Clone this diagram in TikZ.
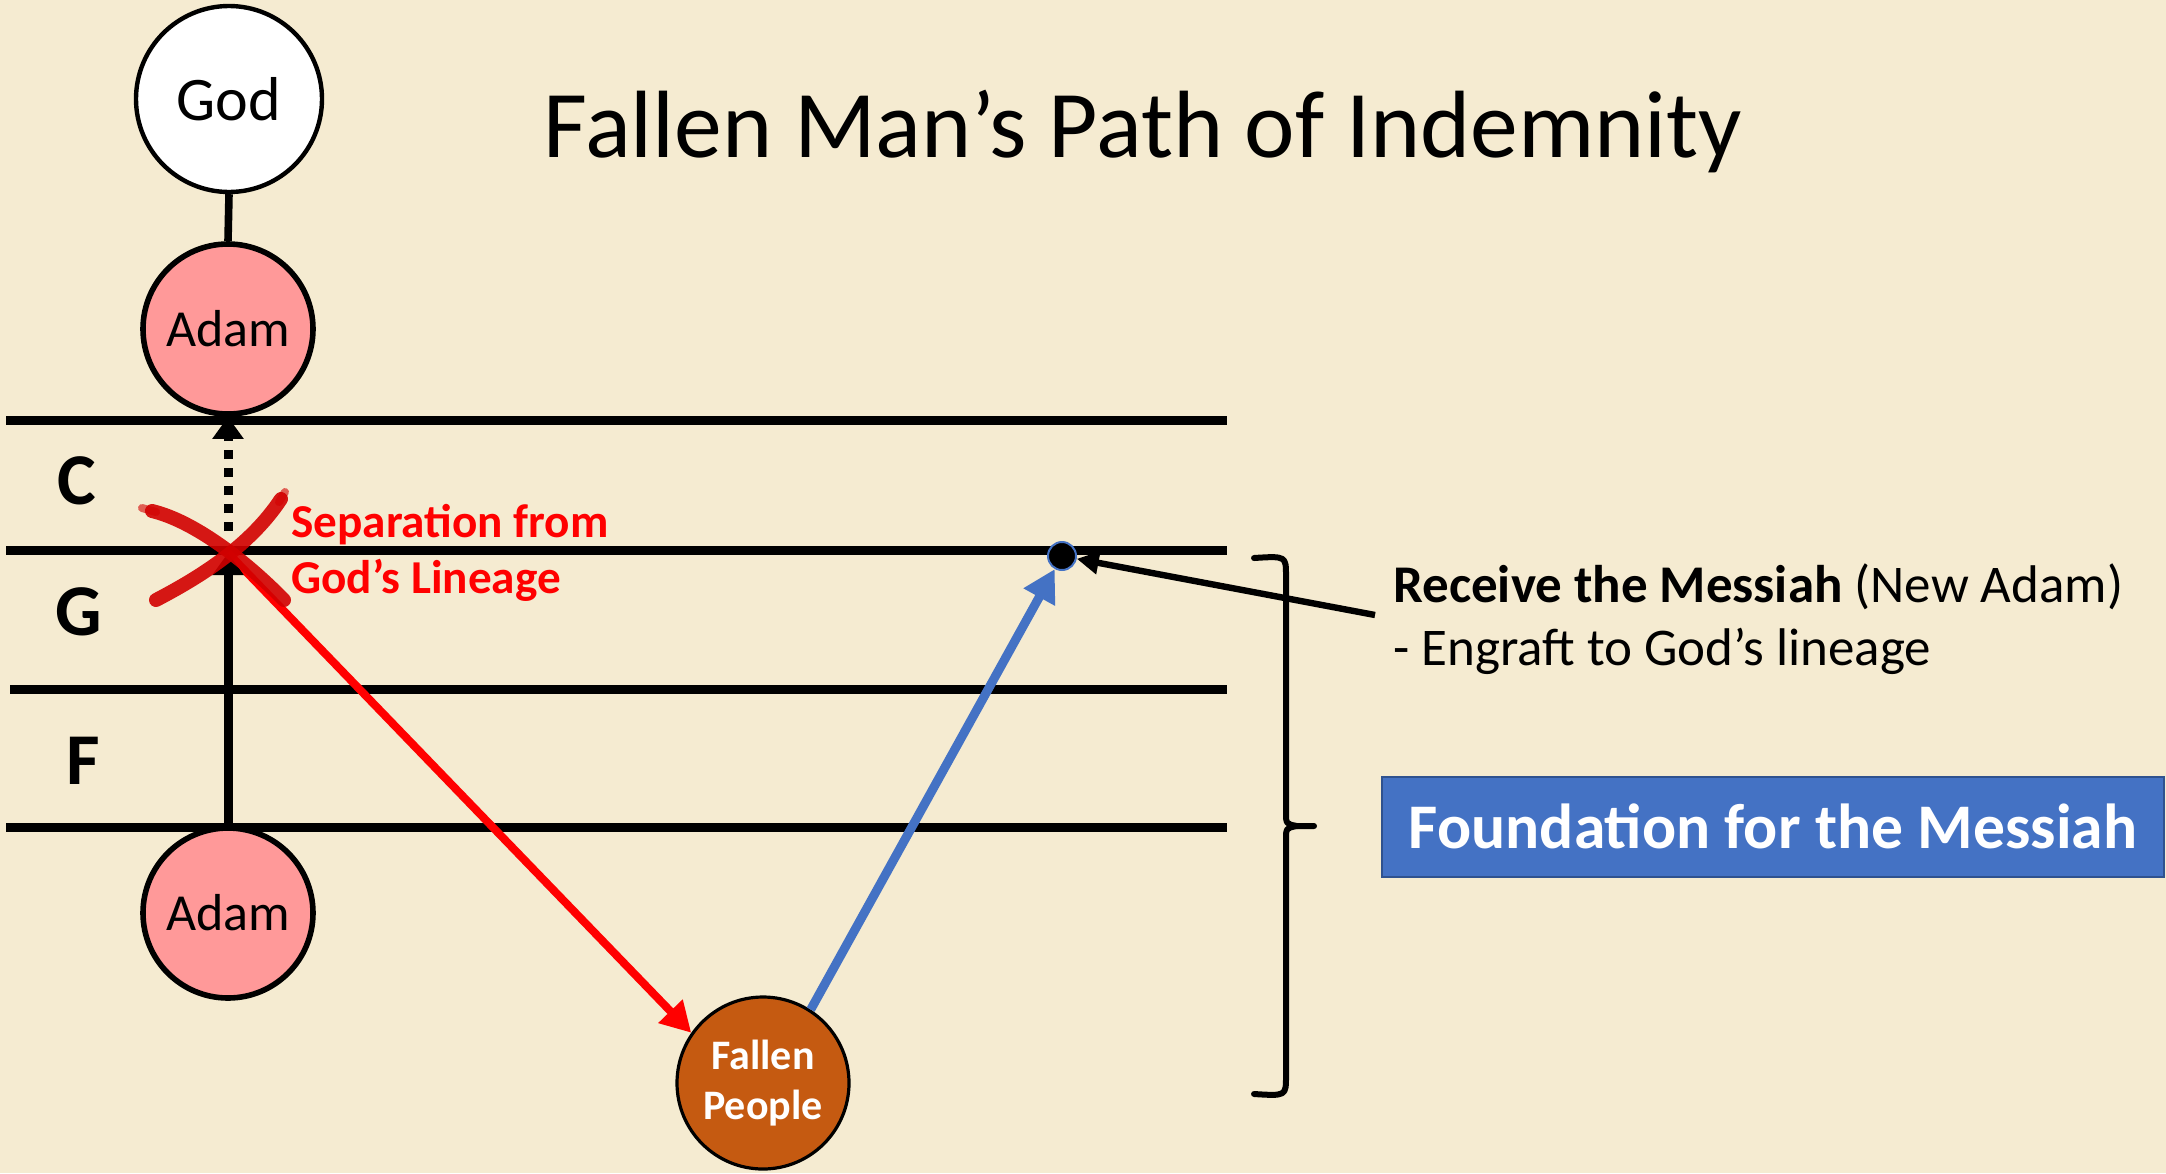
\documentclass[tikz,border=0pt]{standalone}
\usepackage{fontspec}
\setmainfont{Carlito}
\usetikzlibrary{arrows.meta}
\definecolor{bg}{RGB}{245,235,209}
\definecolor{pinkfill}{RGB}{255,153,153}
\definecolor{fallenfill}{RGB}{197,90,17}
\definecolor{accblue}{RGB}{68,114,196}
\definecolor{boxedge}{RGB}{47,82,143}
\definecolor{xred}{RGB}{210,0,0}
\definecolor{txtred}{RGB}{255,0,0}
\begin{document}
\begin{tikzpicture}[x=0.5pt,y=-0.5pt,
  hline/.style={line width=4.5pt},
  circnode/.style={circle, draw=black, inner sep=0pt},
  blkarrow/.style={line width=4.5pt, -{Triangle[length=11pt,width=15pt]}},
  dotarrow/.style={line width=4.5pt, dash pattern=on 4.5pt off 4.5pt, -{Triangle[length=11pt,width=15pt]}},
  redarrow/.style={line width=4pt, draw=txtred, -{Triangle[length=15pt,width=16pt]}},
  bluearrow/.style={line width=4.5pt, draw=accblue, -{Triangle[length=16pt,width=17pt]}},
  ptrarrow/.style={line width=3.2pt, -{Triangle[length=11pt,width=11pt]}},
  xstroke/.style={line width=7pt, draw=xred, line cap=round, opacity=0.9},
  xtip/.style={line width=4pt, draw=xred, line cap=round, opacity=0.6},
  levellabel/.style={font=\fontsize{36.5}{40}\selectfont\bfseries, inner sep=0pt},
  redlabel/.style={font=\fontsize{23.6}{28}\selectfont\bfseries, text=txtred, anchor=base west, inner sep=0pt},
  rightlabel/.style={font=\fontsize{26.5}{31.5}\selectfont, anchor=base west, inner sep=0pt},
  bracepath/.style={line width=3pt, line cap=round, line join=round}
]
% background
\fill[bg] (0,0) rectangle (2166,1173);
\useasboundingbox (0,0) rectangle (2166,1173);

% horizontal level lines
\draw[hline] (6,420) -- (1227,420);
\draw[hline] (6,550) -- (1227,550);
\draw[hline] (10,689) -- (1227,689);
\draw[hline] (6,827) -- (1227,827);

% circles
\node[circnode, fill=white, line width=2.2pt, minimum size=93pt,
      font=\fontsize{31}{36}\selectfont] (god) at (229,99) {God};
\node[circnode, fill=pinkfill, line width=2.8pt, minimum size=85pt,
      font=\fontsize{26}{30}\selectfont] (adamtop) at (228,329) {Adam};
\node[circnode, fill=pinkfill, line width=2.8pt, minimum size=85pt,
      font=\fontsize{26}{30}\selectfont] (adambot) at (228,913) {Adam};
\node[circnode, fill=fallenfill, line width=1.6pt, minimum size=86pt,
      text=white, align=center, font=\fontsize{21}{25}\selectfont\bfseries] (fallen) at (763,1083) {Fallen\\People};

% god - adam connector
\draw[line width=3.8pt] (god.south) -- (adamtop.north);

% key coordinates
\coordinate (xc) at (228,553);
\coordinate (dstart) at (228,531);
\coordinate (rc) at (1375,615);

% receive point
\node[circle, fill=black, draw=accblue, line width=1pt, minimum size=14pt, inner sep=0pt] (dot) at (1062,556) {};

% arrows
\draw[redarrow] (xc) -- (fallen.145);
\draw[blkarrow] (adambot.north) -- (xc);
\draw[dotarrow] (dstart) -- (adamtop.south);
\draw[bluearrow] (fallen.57.6) -- (dot);
\draw[ptrarrow] (rc) -- (dot);

% red cross (brush strokes)
\draw[xstroke] (152,511) .. controls (194,521) and (246,561) .. (284,600);
\draw[xtip] (142,508) -- (156,512);
\draw[xstroke] (156,600) .. controls (200,577) and (250,546) .. (281,499);
\draw[xtip] (285,492) -- (279,502);

% level labels
\node[levellabel] (lc) at (77,481) {C};
\node[levellabel] (lg) at (79,612) {G};
\node[levellabel] (lf) at (83,761) {F};

% title
\node[font=\fontsize{47.8}{56}\selectfont, anchor=base, inner sep=0pt] (title) at (1143,157) {Fallen Man’s Path of Indemnity};

% red labels
\node[redlabel] (sep1) at (291,537) {Separation from};
\node[redlabel] (sep2) at (291,593) {God’s Lineage};

% right labels
\node[rightlabel] (rec1) at (1393,602) {\textbf{Receive the Messiah} (New Adam)};
\node[rightlabel] (rec2) at (1393,665) {- Engraft to God’s lineage};

% brace
\draw[bracepath] (1254,558) .. controls (1286,556) .. (1286,576) -- (1286,812)
   .. controls (1286,824) .. (1297,826) -- (1314,826);
\draw[bracepath] (1297,826) .. controls (1286,828) .. (1286,840) -- (1286,1076)
   .. controls (1286,1096) .. (1254,1094);

% foundation box
\node[draw=boxedge, fill=accblue, line width=1pt, minimum width=391pt, minimum height=50pt,
      inner sep=0pt, text=white, font=\fontsize{31.8}{36}\selectfont\bfseries] (found) at (1773,826.5) {Foundation for the Messiah};
\end{tikzpicture}
\end{document}
